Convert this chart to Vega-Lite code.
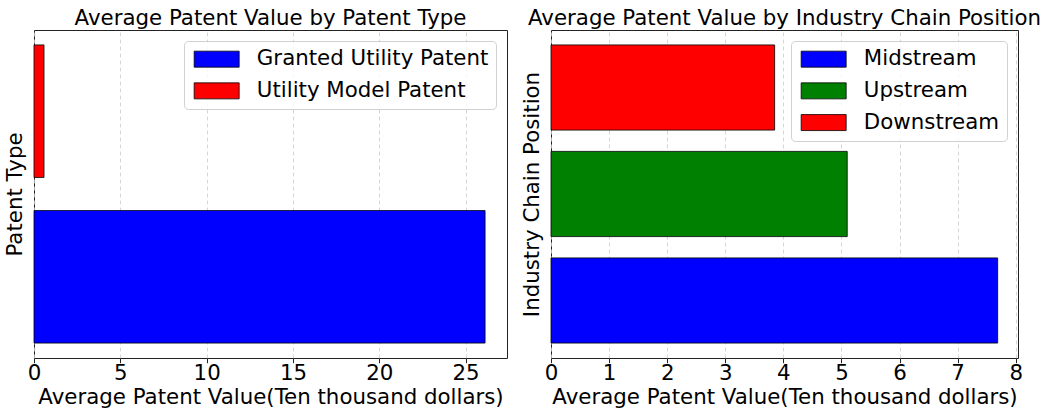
{
  "$schema": "https://vega.github.io/schema/vega-lite/v6.json",
  "padding": {"left": 3, "top": 7, "right": 0, "bottom": 0},
  "spacing": 12,
  "config": {
    "font": "DejaVu Sans",
    "view": {"stroke": "#222", "strokeWidth": 1},
    "axisX": {"labelFontSize": 21.33, "titleFontSize": 21.33, "titleFontWeight": "normal", "labelColor": "#000", "titleColor": "#000", "grid": true, "gridDash": [4, 3], "gridColor": "#ccc", "gridWidth": 0.8, "tickColor": "#222", "tickSize": 4.7, "domain": false, "labelPadding": 0, "titlePadding": 2, "labelFlush": false, "labelOverlap": false},
    "axisY": {"labels": false, "ticks": false, "domain": false, "grid": false, "titleFontSize": 21.33, "titleFontWeight": "normal", "titleColor": "#000", "titlePadding": 9},
    "title": {"fontSize": 21.33, "fontWeight": "normal", "color": "#000", "offset": 1, "anchor": "middle"},
    "legend": {"orient": "top-right", "offset": 11, "title": null, "labelFontSize": 21.33, "labelColor": "#000", "labelLimit": 0, "fillColor": "rgba(255,255,255,0.8)", "strokeColor": "#d0d0d0", "cornerRadius": 4, "padding": 7.5, "rowPadding": 9.7, "symbolType": "M-1,-1H4.625V1H-1Z", "symbolSize": 256, "symbolStrokeColor": "#000", "symbolStrokeWidth": 0.8, "symbolOpacity": 1, "labelOffset": 44}
  },
  "hconcat": [
    {
      "title": "Average Patent Value by Patent Type",
      "width": 473,
      "height": 328,
      "data": {"values": [
        {"type": "Granted Utility Patent", "value": 26.13},
        {"type": "Utility Model Patent", "value": 0.58}
      ]},
      "mark": {"type": "bar", "stroke": "#000", "strokeWidth": 0.8},
      "encoding": {
        "y": {"field": "type", "type": "nominal", "title": "Patent Type", "sort": ["Utility Model Patent", "Granted Utility Patent"], "scale": {"paddingInner": 0.2, "paddingOuter": 0.09}},
        "x": {"field": "value", "type": "quantitative", "title": "Average Patent Value(Ten thousand dollars)", "scale": {"domain": [0, 27.4], "nice": false}, "axis": {"values": [0, 5, 10, 15, 20, 25]}},
        "color": {"field": "type", "type": "nominal", "scale": {"domain": ["Granted Utility Patent", "Utility Model Patent"], "range": ["#0000ff", "#ff0000"]}}
      }
    },
    {
      "title": "Average Patent Value by Industry Chain Position",
      "width": 467,
      "height": 328,
      "data": {"values": [
        {"pos": "Midstream", "value": 7.69},
        {"pos": "Upstream", "value": 5.1},
        {"pos": "Downstream", "value": 3.85}
      ]},
      "mark": {"type": "bar", "stroke": "#000", "strokeWidth": 0.8},
      "encoding": {
        "y": {"field": "pos", "type": "nominal", "title": "Industry Chain Position", "sort": ["Downstream", "Upstream", "Midstream"], "scale": {"paddingInner": 0.2, "paddingOuter": 0.14}},
        "x": {"field": "value", "type": "quantitative", "title": "Average Patent Value(Ten thousand dollars)", "scale": {"domain": [0, 8.04], "nice": false}, "axis": {"values": [0, 1, 2, 3, 4, 5, 6, 7, 8]}},
        "color": {"field": "pos", "type": "nominal", "scale": {"domain": ["Midstream", "Upstream", "Downstream"], "range": ["#0000ff", "#008000", "#ff0000"]}}
      }
    }
  ],
  "resolve": {"scale": {"color": "independent"}, "legend": {"color": "independent"}}
}
